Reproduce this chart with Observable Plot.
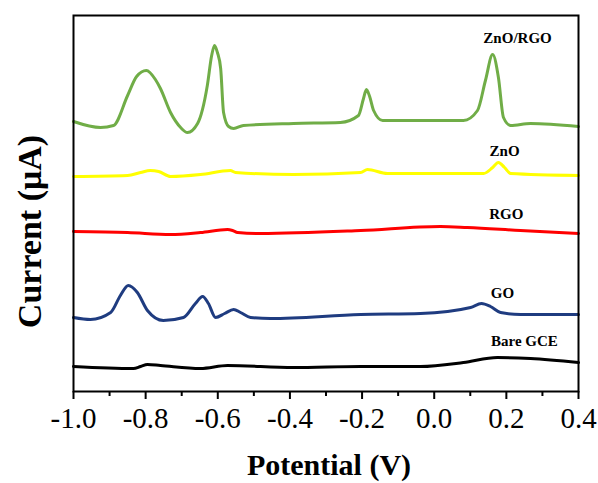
<!DOCTYPE html>
<html><head><meta charset="utf-8">
<script src="https://cdn.jsdelivr.net/npm/d3@7"></script>
<script src="https://cdn.jsdelivr.net/npm/@observablehq/plot@0.6"></script>
<style>body{margin:0;background:#fff;}</style>
</head><body><div id="chart"></div>
<script>
// Axis ticks
const xTicks = [-1.0, -0.8, -0.6, -0.4, -0.2, 0.0, 0.2, 0.4];
const xTickLabels = ["-1.0", "-0.8", "-0.6", "-0.4", "-0.2", "0.0", "0.2", "0.4"];
const xMinorTicks = [-0.9, -0.7, -0.5, -0.3, -0.1, 0.1, 0.3];

// Series
const seriesNames = ["ZnO/RGO", "ZnO", "RGO", "GO", "Bare GCE"];
const seriesColors = ["#70ad47", "#ffff00", "#ff0000", "#1f3c80", "#000000"];

// Potential (V) and current (arbitrary units, offset curves)
const znoRgoV = [-1.000,-0.925,-0.889,-0.850,-0.825,-0.798,-0.773,-0.759,-0.731,-0.703,-0.684,-0.656,-0.629,-0.617,-0.609,-0.601,-0.592,-0.584,-0.570,-0.556,-0.529,-0.390,-0.260,-0.210,-0.196,-0.188,-0.179,-0.168,-0.143,-0.038,0.081,0.120,0.142,0.162,0.178,0.192,0.212,0.267,0.400];
const znoRgoI = [270,264,266,296,315,321,312,303,279,264,259,268,306,336,346,339,323,279,265,263,266,268,269,276,293,302,295,281,271,271,271,281,311,337,314,274,266,268,265];

const znoV = [-1.000,-0.850,-0.814,-0.787,-0.764,-0.731,-0.648,-0.565,-0.551,-0.390,-0.204,-0.185,-0.130,0.137,0.162,0.178,0.195,0.212,0.400];
const znoI = [215,216,219,221,220,215,217,221,219,217,219,222,218,218,224,229,224,218,216];

const rgoV = [-1.000,-0.850,-0.731,-0.648,-0.573,-0.559,-0.545,-0.482,-0.204,0.017,0.092,0.239,0.400];
const rgoI = [160,159,157,159,162,161,159,158,161,165,164,161,158];

const goV = [-1.000,-0.953,-0.897,-0.870,-0.848,-0.823,-0.795,-0.751,-0.695,-0.662,-0.642,-0.626,-0.606,-0.581,-0.556,-0.537,-0.509,-0.454,-0.204,-0.038,0.101,0.131,0.156,0.184,0.239,0.400];
const goI = [74,72,79,96,106,99,81,71,74,88,95,88,74,78,82,79,74,73,77,78,84,88,85,79,77,77];

const bareV = [-1.000,-0.834,-0.814,-0.795,-0.759,-0.648,-0.573,-0.390,-0.204,-0.038,0.081,0.175,0.267,0.400];
const bareI = [25,23,25,27,26,23,26,24,25,25,29,34,33,29];

// Curve labels
const labelV = [0.231, 0.195, 0.200, 0.189, 0.250];
const labelI = [353, 240, 177, 98, 50];

const seriesV = [znoRgoV, znoV, rgoV, goV, bareV];
const seriesI = [znoRgoI, znoI, rgoI, goI, bareI];

const rows = [];
seriesNames.forEach((name, s) => {
  seriesV[s].forEach((v, k) => rows.push({series: name, v, i: seriesI[s][k]}));
});
const labels = seriesNames.map((name, s) => ({name, v: labelV[s], i: labelI[s]}));

const serif = "'Liberation Serif', 'Times New Roman', serif";

const chart = Plot.plot({
  width: 598,
  height: 483,
  marginLeft: 73,
  marginRight: 20,
  marginTop: 15,
  marginBottom: 92,
  style: {fontFamily: serif, background: "white", color: "black"},
  x: {domain: [-1.0, 0.4]},
  y: {domain: [0, 376], axis: null},
  color: {domain: seriesNames, range: seriesColors},
  marks: [
    Plot.line(rows, {x: "v", y: "i", z: "series", stroke: "series", strokeWidth: 3, curve: "monotone-x"}),
    Plot.text(labels, {x: "v", y: "i", text: "name", fontSize: 15, fontWeight: "bold", fontFamily: serif, fill: "black", lineAnchor: "middle"}),
    Plot.frame({stroke: "black", strokeWidth: 2}),
    Plot.axisX({ticks: xMinorTicks, tickSize: 5, strokeWidth: 2, tickFormat: () => "", label: null}),
    Plot.axisX({ticks: xTicks, tickSize: 8, tickPadding: 8, strokeWidth: 2, fontSize: 29, fontFamily: serif,
      tickFormat: d => xTickLabels[xTicks.indexOf(d)], label: null}),
    Plot.text(["Potential (V)"], {frameAnchor: "bottom", textAnchor: "middle", dx: 3, dy: 83, lineAnchor: "bottom", fontSize: 30, fontWeight: "bold", fontFamily: serif, fill: "black"}),
    Plot.text(["Current (μA)"], {frameAnchor: "left", textAnchor: "middle", rotate: -90, dx: -33, dy: 28, lineAnchor: "bottom", fontSize: 34, fontWeight: "bold", fontFamily: serif, fill: "black"})
  ]
});
document.getElementById("chart").appendChild(chart);
</script>
</body></html>
